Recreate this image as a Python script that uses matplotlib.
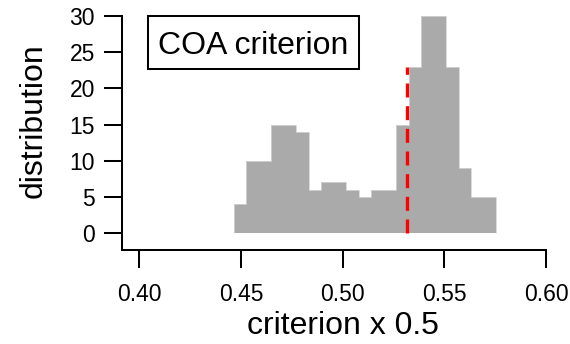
import numpy as np
import matplotlib
matplotlib.use("Agg")
import matplotlib.pyplot as plt
from matplotlib.patches import Rectangle

# --- data ---
bin_start = 0.44657
bin_width = 0.006135
counts = [4, 10, 10, 15, 15, 14, 6, 7, 7, 6, 5, 6, 6, 15, 23, 30, 30, 23, 9, 5, 5]
criterion_x = 0.5318
criterion_top = 23
xticks = [0.40, 0.45, 0.50, 0.55, 0.60]
yticks = [0, 5, 10, 15, 20, 25, 30]

plt.rcParams["font.family"] = ["Liberation Sans", "DejaVu Sans"]

fig = plt.figure(figsize=(5.7, 3.44), dpi=100)
ax = fig.add_axes([0.214, 0.2733, 0.744, 0.680])

edges = bin_start + bin_width * np.arange(len(counts) + 1)
ax.stairs(counts, edges, fill=True, color="#aaaaaa", zorder=1)
ax.stairs(counts, edges, baseline=0, color="#d4d4d4", linewidth=0.6, zorder=2)

ax.vlines(criterion_x, 0, criterion_top, colors="#ff0000", linewidth=2.4,
          linestyles=(0, (4.2, 2.6)), zorder=3)

ax.set_xlim(0.3915, 0.60)
ax.set_ylim(-2.35, 30)
ax.set_xticks(xticks)
ax.set_xticklabels([f"{t:.2f}" for t in xticks])
ax.set_yticks(yticks)

for s in ["top", "right"]:
    ax.spines[s].set_visible(False)
for s in ["left", "bottom"]:
    ax.spines[s].set_linewidth(1.45)

ax.tick_params(axis="both", direction="out", length=13, width=1.45,
               labelsize=16.5, colors="black")
ax.tick_params(axis="x", pad=10.6)
ax.tick_params(axis="y", pad=6.5)

ax.set_xlabel("criterion x 0.5", fontsize=23)
ax.xaxis.set_label_coords(0.520, -0.2607)
ax.set_ylabel("distribution", fontsize=23)
ax.yaxis.set_label_coords(-0.173, 0.551)

# legend-like box
ax.add_patch(Rectangle((0.0606, 0.7735), 0.4984, 0.2278, transform=ax.transAxes,
                       facecolor="white", edgecolor="black", linewidth=1.45,
                       clip_on=False, zorder=4))
ax.text(0.3099, 0.8376, "COA criterion", transform=ax.transAxes, fontsize=23,
        ha="center", va="baseline", zorder=5)

fig.savefig("out.png", dpi=100)
